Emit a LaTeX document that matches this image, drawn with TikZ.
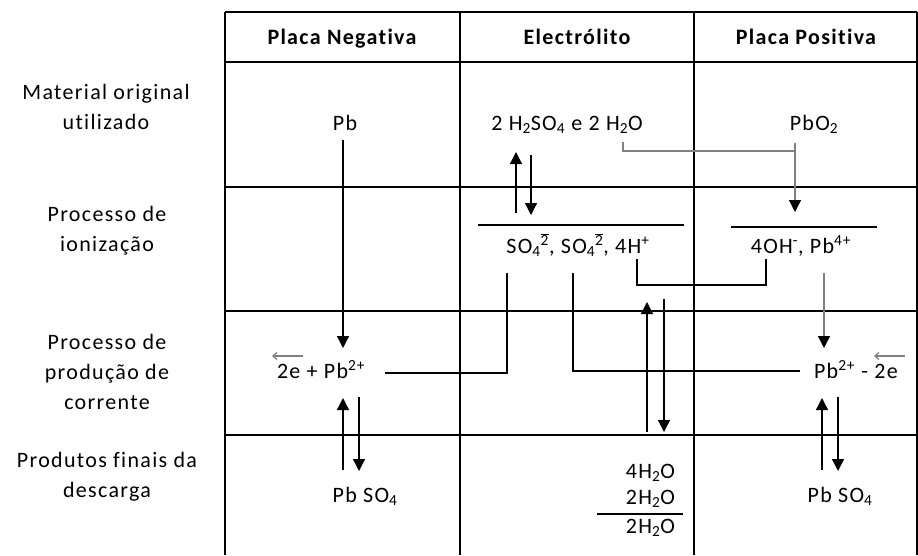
\documentclass[tikz,border=0pt]{standalone}
\usepackage{fontspec}
\setmainfont{Carlito}[LetterSpace=6,RawFeature=-liga]
\usetikzlibrary{arrows.meta}
\definecolor{grayline}{RGB}{128,128,128}
\newcommand{\barsup}{\textsuperscript{$\overline{\hbox{2}}$}}
\begin{document}
\begin{tikzpicture}[x=1pt,y=-1pt,
  every node/.style={inner sep=0pt, outer sep=0pt, font=\fontsize{22}{30}\selectfont},
  hdr/.style={font=\fontsize{22}{30}\selectfont\bfseries, anchor=base},
  lbl/.style={align=center, anchor=center},
  chem/.style={anchor=base},
  gridline/.style={line width=1.3pt},
  conn/.style={line width=1.3pt},
  gconn/.style={line width=1.3pt, draw=grayline},
  arr/.style={conn, -{Triangle[width=12pt,length=12pt]}},
  garr/.style={gconn, -{Triangle[width=12pt,length=12pt,color=black]}},
  earr/.style={line width=1.3pt, draw=grayline, {Straight Barb[length=4pt,width=7pt]}-}
]
\useasboundingbox (0,0) rectangle (918,555);

% table grid
\foreach \x in {225,460,694,917} \draw[gridline] (\x,12) -- (\x,555);
\foreach \y in {12,62,187,311,435} \draw[gridline] (225,\y) -- (917,\y);

% headers
\node[hdr] (hneg) at (342,44) {Placa Negativa};
\node[hdr] (hel) at (577,44) {Electrólito};
\node[hdr] (hpos) at (806,44) {Placa Positiva};

% row labels
\node[lbl] (r1) at (106,107) {Material original\\utilizado};
\node[lbl] (r2) at (107,231) {Processo de\\ionização};
\node[lbl] (r3) at (107,372) {Processo de\\produção de\\corrente};
\node[lbl] (r4) at (107,477) {Produtos finais da\\descarga};

% chemistry texts
\node[chem] (pb) at (345,130) {Pb};
\node[chem] (h2so4) at (567,130) {2 H\textsubscript{2}SO\textsubscript{4} e 2 H\textsubscript{2}O};
\node[chem] (pbo2) at (814,130) {PbO\textsubscript{2}};
\node[chem] (ions) at (578,253) {SO\textsubscript{4}\barsup, SO\textsubscript{4}\barsup, 4H\textsuperscript{+}};
\node[chem] (ionp) at (801,253) {4OH\textsuperscript{-}, Pb\textsuperscript{4+}};
\node[chem, anchor=base west] (negcur) at (277,378) {2e + Pb\textsuperscript{2+}};
\node[chem, anchor=base west] (poscur) at (814,378) {Pb\textsuperscript{2+} - 2e};
\node[chem] (pbso4n) at (365,502) {Pb SO\textsubscript{4}};
\node[chem] (pbso4p) at (840,502) {Pb SO\textsubscript{4}};
\node[chem, anchor=base east] (w1) at (675,478) {4H\textsubscript{2}O};
\node[chem, anchor=base east] (w2) at (675,504) {2H\textsubscript{2}O};
\node[chem, anchor=base east] (w3) at (675,533) {2H\textsubscript{2}O};

% fraction bars
\draw[conn] (478,225) -- (684,225);
\draw[conn] (731,227) -- (877,227);
\draw[conn] (597,514) -- (683,514);

% connector end points
\coordinate (pbA) at (343,140);  \coordinate (pbB) at (343,348);
\coordinate (elUa) at (516,213); \coordinate (elUb) at (516,152);
\coordinate (elDa) at (531,155); \coordinate (elDb) at (531,215);
\coordinate (h2oA) at (623,142); \coordinate (h2oB) at (623,151); \coordinate (h2oC) at (795,151);
\coordinate (pbo2A) at (795,143); \coordinate (pbo2B) at (795,212);
\coordinate (so1A) at (507,273); \coordinate (so1B) at (507,373); \coordinate (so1C) at (385,373);
\coordinate (so2A) at (573,273); \coordinate (so2B) at (573,371); \coordinate (so2C) at (800,371);
\coordinate (hA) at (637,259); \coordinate (hB) at (637,285); \coordinate (hC) at (766,285); \coordinate (hD) at (766,259);
\coordinate (mUa) at (647,432); \coordinate (mUb) at (647,302);
\coordinate (mDa) at (664,299); \coordinate (mDb) at (664,432);
\coordinate (p4A) at (824,273); \coordinate (p4B) at (824,348);
\coordinate (lUa) at (343,470); \coordinate (lUb) at (343,398);
\coordinate (lDa) at (359,397); \coordinate (lDb) at (359,471);
\coordinate (rUa) at (822,470); \coordinate (rUb) at (822,398);
\coordinate (rDa) at (838,397); \coordinate (rDb) at (838,471);
\coordinate (eLa) at (272,356); \coordinate (eLb) at (303,356);
\coordinate (eRa) at (874,356); \coordinate (eRb) at (905,356);

% connectors
\draw[arr] (pbA) -- (pbB);
\draw[arr] (elUa) -- (elUb);
\draw[arr] (elDa) -- (elDb);
\draw[gconn] (h2oA) -- (h2oB) -- (h2oC);
\draw[garr] (pbo2A) -- (pbo2B);
\draw[conn] (so1A) -- (so1B) -- (so1C);
\draw[conn] (so2A) -- (so2B) -- (so2C);
\draw[conn] (hA) -- (hB) -- (hC) -- (hD);
\draw[arr] (mUa) -- (mUb);
\draw[arr] (mDa) -- (mDb);
\draw[garr] (p4A) -- (p4B);
\draw[arr] (lUa) -- (lUb);
\draw[arr] (lDa) -- (lDb);
\draw[arr] (rUa) -- (rUb);
\draw[arr] (rDa) -- (rDb);
\draw[earr] (eLa) -- (eLb);
\draw[earr] (eRa) -- (eRb);
\end{tikzpicture}
\end{document}
